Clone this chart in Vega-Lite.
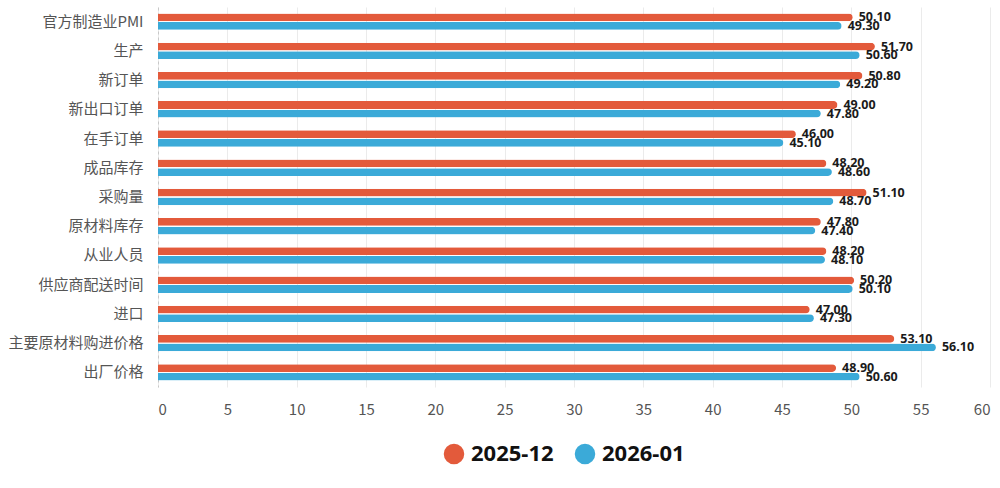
{
  "$schema": "https://vega.github.io/schema/vega-lite/v6.json",
  "width": 832,
  "height": 380,
  "autosize": {"type": "none"},
  "padding": {"left": 158, "top": 7, "right": 10, "bottom": 101},
  "background": "white",
  "config": {"view": {"stroke": null}},
  "data": {"values": [
    {"item": "官方制造业PMI", "period": "2025-12", "value": 50.10},
    {"item": "官方制造业PMI", "period": "2026-01", "value": 49.30},
    {"item": "生产", "period": "2025-12", "value": 51.70},
    {"item": "生产", "period": "2026-01", "value": 50.60},
    {"item": "新订单", "period": "2025-12", "value": 50.80},
    {"item": "新订单", "period": "2026-01", "value": 49.20},
    {"item": "新出口订单", "period": "2025-12", "value": 49.00},
    {"item": "新出口订单", "period": "2026-01", "value": 47.80},
    {"item": "在手订单", "period": "2025-12", "value": 46.00},
    {"item": "在手订单", "period": "2026-01", "value": 45.10},
    {"item": "成品库存", "period": "2025-12", "value": 48.20},
    {"item": "成品库存", "period": "2026-01", "value": 48.60},
    {"item": "采购量", "period": "2025-12", "value": 51.10},
    {"item": "采购量", "period": "2026-01", "value": 48.70},
    {"item": "原材料库存", "period": "2025-12", "value": 47.80},
    {"item": "原材料库存", "period": "2026-01", "value": 47.40},
    {"item": "从业人员", "period": "2025-12", "value": 48.20},
    {"item": "从业人员", "period": "2026-01", "value": 48.10},
    {"item": "供应商配送时间", "period": "2025-12", "value": 50.20},
    {"item": "供应商配送时间", "period": "2026-01", "value": 50.10},
    {"item": "进口", "period": "2025-12", "value": 47.00},
    {"item": "进口", "period": "2026-01", "value": 47.30},
    {"item": "主要原材料购进价格", "period": "2025-12", "value": 53.10},
    {"item": "主要原材料购进价格", "period": "2026-01", "value": 56.10},
    {"item": "出厂价格", "period": "2025-12", "value": 48.90},
    {"item": "出厂价格", "period": "2026-01", "value": 50.60}
  ]},
  "encoding": {
    "y": {
      "field": "item", "type": "nominal", "sort": null,
      "scale": {"paddingInner": 0.44, "paddingOuter": 0.22},
      "axis": {
        "title": null, "ticks": false, "labelFont": "Noto Sans CJK SC", "labelFontSize": 15,
        "labelColor": "#555555", "labelPadding": 15, "domainColor": "#c8c8c8", "domainDash": [3, 3],
        "labelLimit": 200
      }
    },
    "yOffset": {"field": "period", "type": "nominal", "scale": {"paddingInner": 0.1}},
    "x": {
      "field": "value", "type": "quantitative",
      "scale": {"domain": [0, 60], "nice": false},
      "axis": {
        "title": null, "values": [0,5,10,15,20,25,30,35,40,45,50,55,60], "domain": false, "ticks": false,
        "gridColor": "#ebebeb", "labelFont": "Noto Sans CJK SC", "labelFontSize": 15, "labelColor": "#555555",
        "labelPadding": 15
      }
    },
    "color": {
      "field": "period", "type": "nominal",
      "scale": {"domain": ["2025-12", "2026-01"], "range": ["#E35A3B", "#3BAAD8"]},
      "legend": {
        "title": null, "orient": "none", "direction": "horizontal", "legendX": 285, "legendY": 436,
        "symbolType": "circle", "symbolSize": 420, "symbolStrokeWidth": 0, "symbolOpacity": 1,
        "labelFont": "Noto Sans", "labelFontSize": 22, "labelFontWeight": "bold", "labelColor": "#111111",
        "labelOffset": 6, "columnPadding": 20
      }
    }
  },
  "layer": [
    {"mark": {"type": "bar", "cornerRadiusEnd": 4, "opacity": 1}},
    {
      "mark": {"type": "text", "align": "left", "baseline": "middle", "dx": 6, "font": "Noto Sans", "fontSize": 12.5, "fontWeight": "bold", "color": "#1a1a1a"},
      "encoding": {"text": {"field": "value", "type": "quantitative", "format": ".2f"}, "color": {"value": "#1a1a1a"}}
    }
  ]
}
